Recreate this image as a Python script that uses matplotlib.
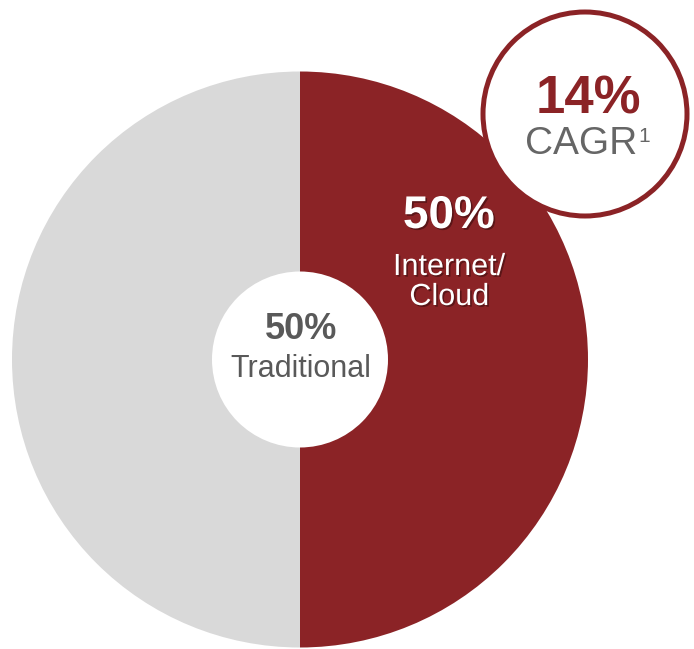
import matplotlib
matplotlib.use("Agg")
import matplotlib.pyplot as plt
from matplotlib.patches import Circle
import matplotlib.patheffects as pe

categories = ["Internet/\nCloud", "Traditional"]
shares = [50, 50]
colors = ["#8B2326", "#D9D9D9"]
cagr_label = "14%"

W, H = 694, 649
fig = plt.figure(figsize=(W / 100, H / 100), dpi=100)
ax = fig.add_axes([0, 0, 1, 1])
ax.set_xlim(0, W)
ax.set_ylim(0, H)
ax.set_aspect("equal")
ax.axis("off")

def Y(py):
    return H - py

cx, cy, R = 300, Y(359.5), 288
ax.pie(shares, colors=colors, startangle=90, counterclock=False,
       center=(cx, cy), radius=R, wedgeprops=dict(linewidth=0))
ax.set_xlim(0, W)
ax.set_ylim(0, H)
ax.add_patch(Circle((cx, cy), 88, facecolor="white", edgecolor="none", zorder=3))

font = "Liberation Sans"
shadow = [pe.withSimplePatchShadow(offset=(1.2, -1.2), shadow_rgbFace="#3a0c0e", alpha=0.6)]

# Internet/Cloud label
ax.text(449, Y(228), f"{shares[0]}%", ha="center", va="baseline", fontsize=33,
        fontweight="bold", color="white", family=font, zorder=4, path_effects=shadow)
ax.text(449, Y(275), "Internet/", ha="center", va="baseline", fontsize=22,
        color="white", family=font, zorder=4, path_effects=shadow)
ax.text(449, Y(305), "Cloud", ha="center", va="baseline", fontsize=22,
        color="white", family=font, zorder=4, path_effects=shadow)

# Traditional label
ax.text(301, Y(339), f"{shares[1]}%", ha="center", va="baseline", fontsize=26,
        fontweight="bold", color="#595959", family=font, zorder=4)
ax.text(301, Y(377), categories[1], ha="center", va="baseline", fontsize=22,
        color="#595959", family=font, zorder=4)

# CAGR bubble
bx, by, br = 585, Y(114), 102
ax.add_patch(Circle((bx, by), br, facecolor="white", edgecolor="#8B2326",
                    linewidth=3.6, zorder=5, clip_on=False))
ax.text(588, Y(113), cagr_label, ha="center", va="baseline", fontsize=38,
        fontweight="bold", color="#8B2326", family=font, zorder=6)
ax.text(581, Y(154), "CAGR", ha="center", va="baseline", fontsize=28,
        color="#666666", family=font, zorder=6)
ax.text(638, Y(142), "1", ha="left", va="baseline", fontsize=15,
        color="#666666", family=font, zorder=6)

fig.savefig("out.png", dpi=100)
